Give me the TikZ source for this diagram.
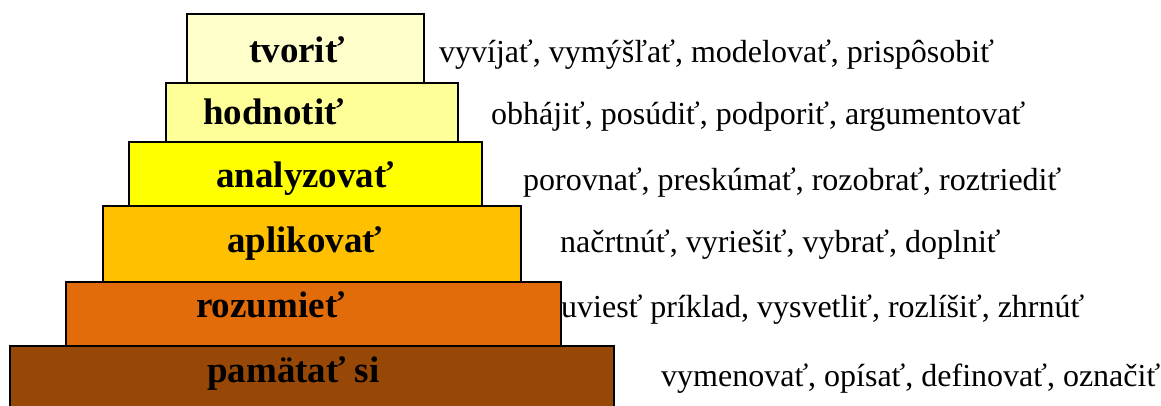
\documentclass[tikz,border=0pt]{standalone}
\usepackage{fontspec}
\setmainfont{Liberation Serif}
\definecolor{lvlA}{HTML}{FFFFCC}
\definecolor{lvlB}{HTML}{FFFF99}
\definecolor{lvlC}{HTML}{FFFF00}
\definecolor{lvlD}{HTML}{FFC000}
\definecolor{lvlE}{HTML}{E36C0A}
\definecolor{lvlF}{HTML}{974806}
\tikzset{
  tier/.style={draw=black, line width=1.5pt, inner sep=0pt, outer sep=0pt, anchor=north west},
  tierlabel/.style={anchor=base west, inner sep=0pt, font=\fontsize{37}{40}\selectfont\bfseries},
  verbs/.style={anchor=base west, inner sep=0pt, font=\fontsize{32}{36}\selectfont},
}
\begin{document}
\begin{tikzpicture}[x=1pt, y=-1pt]
  \useasboundingbox (0,0) rectangle (1161,405);
  \clip (0,0) rectangle (1161,405);
  % pyramid tiers, top to bottom
  \node[tier, fill=lvlA, minimum width=237pt, minimum height=69pt] (t1) at (187,14) {};
  \node[tier, fill=lvlB, minimum width=292pt, minimum height=59pt] (t2) at (166,83) {};
  \node[tier, fill=lvlC, minimum width=353pt, minimum height=64pt] (t3) at (129,142) {};
  \node[tier, fill=lvlD, minimum width=418pt, minimum height=76pt] (t4) at (103,206) {};
  \node[tier, fill=lvlE, minimum width=495pt, minimum height=64pt] (t5) at (66,282) {};
  \node[tier, fill=lvlF, minimum width=604pt, minimum height=80pt] (t6) at (10,346) {};
  % tier names
  \node[tierlabel] (n1) at (249,62) {tvoriť};
  \node[tierlabel] (n2) at (203,124) {hodnotiť};
  \node[tierlabel] (n3) at (216,187) {analyzovať};
  \node[tierlabel] (n4) at (227,252) {aplikovať};
  \node[tierlabel] (n5) at (196,317) {rozumieť};
  \node[tierlabel] (n6) at (207,382) {pamätať si};
  % verbs for each tier
  \node[verbs] (v1) at (439,62) {vyvíjať, vymýšľať, modelovať, prispôsobiť};
  \node[verbs] (v2) at (491,124) {obhájiť, posúdiť, podporiť, argumentovať};
  \node[verbs] (v3) at (523,190) {porovnať, preskúmať, rozobrať, roztriediť};
  \node[verbs] (v4) at (560,252) {načrtnúť, vyriešiť, vybrať, doplniť};
  \node[verbs] (v5) at (561,317) {uviesť príklad, vysvetliť, rozlíšiť, zhrnúť};
  \node[verbs] (v6) at (661,386) {vymenovať, opísať, definovať, označiť};
\end{tikzpicture}
\end{document}
